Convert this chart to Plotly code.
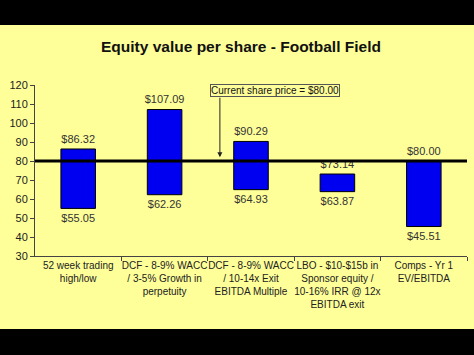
import plotly.graph_objects as go

categories = [
    "52 week trading<br>high/low",
    "DCF - 8-9% WACC<br>/ 3-5% Growth in<br>perpetuity",
    "DCF - 8-9% WACC<br>/ 10-14x Exit<br>EBITDA Multiple",
    "LBO - $10-$15b in<br>Sponsor equity /<br>10-16% IRR @ 12x<br>EBITDA exit",
    "Comps - Yr 1<br>EV/EBITDA",
]
low_values = [55.05, 62.26, 64.93, 63.87, 45.51]
high_values = [86.32, 107.09, 90.29, 73.14, 80.00]
current_price = 80.00
y_ticks = [30, 40, 50, 60, 70, 80, 90, 100, 110, 120]

FONT = "Arial, Liberation Sans, sans-serif"
YELLOW = "#FFFF99"
xpos = list(range(len(categories)))

# pixel -> data-unit conversion for label offsets (plot height 171px for 90 units)
PX = 90 / 171
top_off = 9 * PX
bot_off = 11 * PX

fig = go.Figure()
fig.add_trace(go.Bar(
    x=xpos,
    y=[h - l for h, l in zip(high_values, low_values)],
    base=low_values,
    width=0.4,
    marker=dict(color="#0000F0", line=dict(color="#000000", width=1)),
    hoverinfo="skip",
))
fig.add_trace(go.Scatter(
    x=xpos, y=[v + top_off for v in high_values], mode="text",
    text=[f"${v:.2f}" for v in high_values],
    textposition="middle center",
    textfont=dict(family=FONT, size=11, color="#333333"),
    cliponaxis=False,
))
fig.add_trace(go.Scatter(
    x=xpos, y=[v - bot_off for v in low_values], mode="text",
    text=[f"${v:.2f}" for v in low_values],
    textposition="middle center",
    textfont=dict(family=FONT, size=11, color="#333333"),
    cliponaxis=False,
))
fig.add_trace(go.Scatter(
    x=[-0.5, 4.52], y=[current_price, current_price], mode="lines",
    line=dict(color="#000000", width=3),
    cliponaxis=False,
))

# arrow
fig.add_annotation(
    x=1.64, y=current_price + 2, xref="x", yref="y",
    text="", showarrow=True, ax=0, ay=-61,
    arrowhead=2, arrowsize=1, arrowwidth=1, arrowcolor="#222222",
)
fig.add_annotation(
    x=2.28, y=117.1, xref="x", yref="y",
    text=f"Current share price = ${current_price:.2f}",
    showarrow=False,
    font=dict(family=FONT, size=10, color="#111111"),
    bordercolor="#555555", borderwidth=1, borderpad=0,
    bgcolor=YELLOW,
)

# black bands top and bottom
fig.add_shape(type="rect", xref="paper", yref="paper",
              x0=-0.2, x1=1.1, y0=1.351, y1=1.6,
              fillcolor="#000000", line=dict(width=0))
fig.add_shape(type="rect", xref="paper", yref="paper",
              x0=-0.2, x1=1.1, y0=-0.427, y1=-0.7,
              fillcolor="#000000", line=dict(width=0))

fig.update_layout(
    width=474, height=355,
    margin=dict(l=35, r=7, t=85, b=99),
    paper_bgcolor=YELLOW, plot_bgcolor=YELLOW,
    showlegend=False,
    title=dict(text="<b>Equity value per share - Football Field</b>",
               x=241 / 474, xanchor="center", y=1 - 47 / 355, yanchor="middle",
               font=dict(family=FONT, size=15.5, color="#111111")),
    font=dict(family=FONT, size=11, color="#222222"),
)
fig.update_xaxes(
    range=[-0.5, 4.5], tickmode="array", tickvals=xpos, ticktext=categories,
    tickangle=0, ticks="", showgrid=False, zeroline=False,
    showline=True, linecolor="#444444", linewidth=1,
    tickfont=dict(family=FONT, size=10, color="#222222"),
    minor=dict(tickmode="array", tickvals=[0.5, 1.5, 2.5, 3.5, 4.5],
               ticks="outside", ticklen=4, tickcolor="#444444", showgrid=False),
)
fig.update_yaxes(
    range=[30, 120], tickmode="array", tickvals=y_ticks,
    ticks="outside", ticklen=4, tickcolor="#444444",
    showgrid=False, zeroline=False,
    showline=True, linecolor="#444444", linewidth=1,
    tickfont=dict(family=FONT, size=11, color="#222222"),
)

fig.write_html("out.html")
